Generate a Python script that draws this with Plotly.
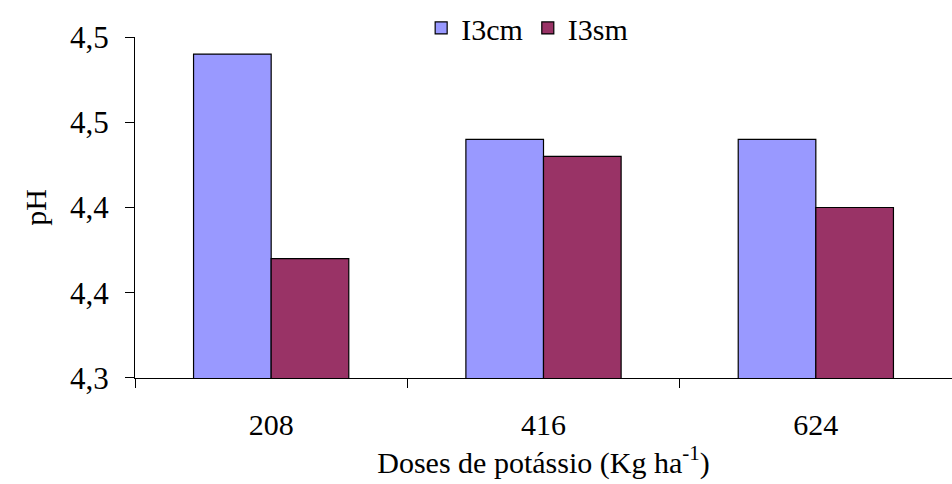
import plotly.graph_objects as go

categories = ["208", "416", "624"]
i3cm = [4.49, 4.44, 4.44]
i3sm = [4.37, 4.43, 4.40]
ytickvals = [4.30, 4.35, 4.40, 4.45, 4.50]
yticktext = ["4,3", "4,4", "4,4", "4,5", "4,5"]

font = "Liberation Serif"

fig = go.Figure()
fig.add_trace(go.Bar(x=categories, y=i3cm, name="I3cm",
                     marker=dict(color="#9999FF", line=dict(color="black", width=1.2))))
fig.add_trace(go.Bar(x=categories, y=i3sm, name="I3sm",
                     marker=dict(color="#993366", line=dict(color="black", width=1.2))))

fig.update_layout(
    width=952, height=484,
    margin=dict(l=135, r=0, t=0, b=106, autoexpand=False),
    paper_bgcolor="white", plot_bgcolor="white",
    font=dict(family=font, size=29, color="black"),
    barmode="group", bargap=0.43, bargroupgap=0,
    showlegend=True,
    legend=dict(orientation="h", x=0.48, xanchor="center",
                y=0.926, yanchor="middle",
                font=dict(family=font, size=30), bgcolor="rgba(0,0,0,0)"),
)
fig.update_xaxes(
    type="category", showline=True, linecolor="black", linewidth=1,
    ticks="outside", tickson="boundaries", ticklen=9, tickcolor="black",
    tickfont=dict(family=font, size=30), showgrid=False, ticklabelstandoff=20,
    title=dict(text="Doses de potássio (Kg ha<sup>-1</sup>)", font=dict(family=font, size=30), standoff=2),
)
fig.update_yaxes(
    domain=[0, 0.9021],
    range=[4.30, 4.50], tickvals=ytickvals, ticktext=yticktext,
    showline=True, linecolor="black", linewidth=1,
    ticks="outside", ticklen=9, tickcolor="black", showgrid=False, zeroline=False,
    tickfont=dict(family=font, size=31), ticklabelstandoff=10,
    title=dict(text="pH", font=dict(family=font, size=30), standoff=14),
)

fig.write_html("out.html")
